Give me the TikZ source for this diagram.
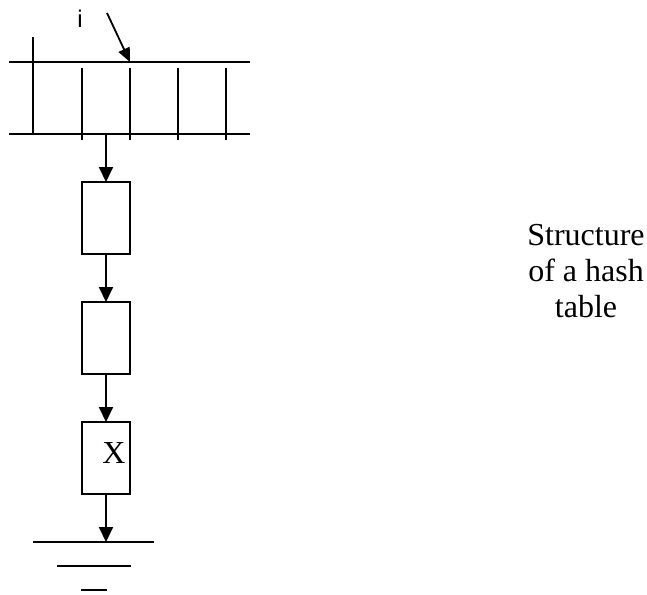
\documentclass[tikz,border=0pt]{standalone}
\usepackage{fontspec}
\setmainfont{Liberation Serif}
\newfontfamily\labelfont{Liberation Sans}
\usetikzlibrary{arrows.meta, positioning}

\begin{document}
\begin{tikzpicture}[x=1pt, y=-1pt,
  cell/.style={draw, line width=2pt, minimum width=48pt, minimum height=72pt, inner sep=0pt, outer sep=0pt},
  link/.style={line width=2pt, -{Triangle[length=15pt, width=14pt]}},
  rule/.style={line width=2pt},
  node distance=48pt
]
  \useasboundingbox (0,0) rectangle (647,594);
  \def\ytop{62}
  \def\ybot{134}

  % table of slots
  \draw[rule] (9,\ytop) -- (250,\ytop);
  \draw[rule] (9,\ybot) -- (250,\ybot);
  \draw[rule] (33,37) -- (33,\ybot);
  \foreach \x in {82,130,178,226}
    \draw[rule] (\x,68) -- (\x,140);

  % index pointer
  \coordinate (ptr) at (107,13);
  \coordinate (entry) at (130,\ytop);
  \coordinate (slot) at (106,\ybot);
  \node[font=\labelfont\fontsize{24}{24}\selectfont, anchor=base] (idx) at (80,28) {i};
  \draw[line width=1.8pt, -{Triangle[length=14pt, width=12pt]}] (ptr) -- (entry);

  % chain
  \node[cell, below=of slot] (box1) {};
  \node[cell, below=of box1] (box2) {};
  \node[cell, below=of box2] (box3) {};
  \node[anchor=base, font=\fontsize{32}{36}\selectfont] (item) at (114,463) {X};
  \coordinate[below=of box3.south] (gnd);

  \draw[link] (slot) -- (box1);
  \draw[link] (box1) -- (box2);
  \draw[link] (box2) -- (box3);
  \draw[link] (box3) -- (gnd);

  % ground
  \draw[line width=1.6pt] (33,542) -- (154,542);
  \draw[line width=1.6pt] (57,566) -- (131,566);
  \draw[line width=1.6pt] (81,590) -- (107,590);

  \node[align=center, font=\fontsize{32}{36}\selectfont] (caption) at (586,271) {Structure\\of a hash\\table};
\end{tikzpicture}
\end{document}
